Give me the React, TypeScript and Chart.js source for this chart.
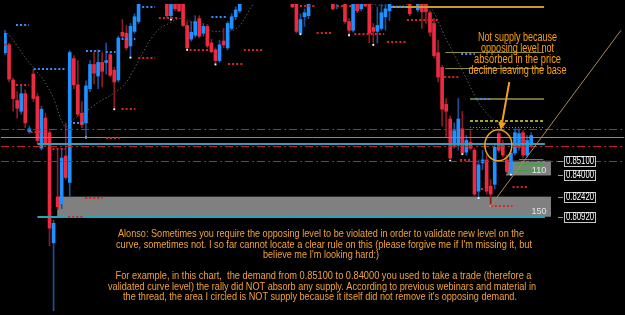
import React, { useEffect, useRef } from "react";
import { Chart, registerables } from "chart.js";

Chart.register(...registerables);

// ---------------- data ----------------
const opens = [
  0.9316, 0.9374, 0.9112, 0.8959, 0.8879, 0.9010, 0.8727, 0.9156, 0.8988, 0.8603,
  0.8828, 0.8719, 0.7898, 0.8240, 0.8189, 0.8545, 0.8349, 0.9272, 0.9076, 0.8865,
  0.8792, 0.9047, 0.9228, 0.9141, 0.9243, 0.9243, 0.9301, 0.9185, 0.9112, 0.9468,
  0.9461, 0.9366, 0.9475, 0.9548, 0.9715, 0.9780, 0.9760, 0.9860, 0.9830, 0.9880,
  0.9750, 0.9592, 0.9720, 0.9720, 0.9710, 0.9519, 0.9417, 0.9446, 0.9570, 0.9461,
  0.9512, 0.9388, 0.9337, 0.9257, 0.9403, 0.9352, 0.9497, 0.9584, 0.9628, 0.9720,
  0.9780, 0.9820, 0.9870, 0.9850, 0.9930, 0.9900, 0.9870, 0.9910, 0.9880, 0.9830,
  0.9790, 0.9750, 0.9750, 0.9461, 0.9584, 0.9592, 0.9720, 0.9770, 0.9740, 0.9790,
  0.9760, 0.9750, 0.9700, 0.9750, 0.9720, 0.9548, 0.9483, 0.9720, 0.9643, 0.9720,
  0.9720, 0.9504, 0.9475, 0.9497, 0.9584, 0.9628, 0.9700, 0.9760, 0.9740, 0.9780,
  0.9720, 0.9700, 0.9635, 0.9710, 0.9700, 0.9614, 0.9534, 0.9316, 0.9206, 0.8930,
  0.8821, 0.8625, 0.8625, 0.8748, 0.8574, 0.8647, 0.8589, 0.8283, 0.8494, 0.8516,
  0.8320, 0.8334, 0.8712, 0.8625, 0.8516, 0.8421, 0.8567, 0.8610, 0.8719, 0.8552, 0.8625,
];
const highs = [
  0.9483, 0.9388, 0.9126, 0.9025, 0.9076, 0.9039, 0.8770, 0.9192, 0.9010, 0.8916,
  0.8865, 0.8734, 0.8065, 0.8589, 0.8603, 0.8792, 0.9330, 0.9294, 0.9257, 0.8952,
  0.9105, 0.9257, 0.9323, 0.9337, 0.9316, 0.9388, 0.9316, 0.9206, 0.9439, 0.9563,
  0.9519, 0.9534, 0.9606, 0.9750, 0.9810, 0.9850, 0.9880, 0.9920, 0.9900, 0.9930,
  0.9800, 0.9800, 0.9760, 0.9750, 0.9750, 0.9548, 0.9548, 0.9592, 0.9592, 0.9534,
  0.9526, 0.9417, 0.9352, 0.9410, 0.9497, 0.9548, 0.9606, 0.9657, 0.9750, 0.9800,
  0.9840, 0.9900, 0.9930, 0.9950, 0.9990, 0.9960, 0.9940, 0.9980, 0.9920, 0.9890,
  0.9840, 0.9800, 0.9800, 0.9606, 0.9643, 0.9750, 0.9800, 0.9830, 0.9810, 0.9850,
  0.9800, 0.9800, 0.9800, 0.9820, 0.9760, 0.9570, 0.9750, 0.9760, 0.9750, 0.9760,
  0.9760, 0.9534, 0.9657, 0.9700, 0.9700, 0.9750, 0.9780, 0.9820, 0.9800, 0.9830,
  0.9760, 0.9760, 0.9750, 0.9750, 0.9750, 0.9628, 0.9570, 0.9410, 0.9221, 0.8974,
  0.8843, 0.8792, 0.8974, 0.8879, 0.8698, 0.8734, 0.8603, 0.8516, 0.8589, 0.8552,
  0.8370, 0.8639, 0.8727, 0.8661, 0.8552, 0.8589, 0.8748, 0.8748, 0.8734, 0.8698, 0.8719,
];
const lows = [
  0.9301, 0.9097, 0.8879, 0.8828, 0.8857, 0.8756, 0.8712, 0.8952, 0.8639, 0.8589,
  0.8618, 0.7876, 0.7350, 0.8145, 0.8152, 0.8370, 0.8240, 0.9047, 0.8843, 0.8756,
  0.8683, 0.9025, 0.9083, 0.9047, 0.9061, 0.9156, 0.9134, 0.8894, 0.9097, 0.9425,
  0.9337, 0.9279, 0.9461, 0.9534, 0.9690, 0.9740, 0.9730, 0.9800, 0.9760, 0.9800,
  0.9577, 0.9563, 0.9628, 0.9621, 0.9512, 0.9337, 0.9403, 0.9432, 0.9425, 0.9439,
  0.9352, 0.9316, 0.9228, 0.9243, 0.9352, 0.9337, 0.9483, 0.9563, 0.9614, 0.9700,
  0.9740, 0.9790, 0.9830, 0.9820, 0.9880, 0.9850, 0.9820, 0.9860, 0.9810, 0.9760,
  0.9720, 0.9650, 0.9461, 0.9454, 0.9512, 0.9570, 0.9700, 0.9730, 0.9700, 0.9750,
  0.9700, 0.9635, 0.9643, 0.9700, 0.9534, 0.9446, 0.9468, 0.9614, 0.9628, 0.9657,
  0.9388, 0.9374, 0.9388, 0.9483, 0.9483, 0.9555, 0.9690, 0.9720, 0.9700, 0.9730,
  0.9592, 0.9690, 0.9621, 0.9497, 0.9534, 0.9439, 0.9279, 0.9097, 0.8770, 0.8683,
  0.8509, 0.8603, 0.8589, 0.8559, 0.8552, 0.8589, 0.8247, 0.8232, 0.8443, 0.8261,
  0.8174, 0.8298, 0.8574, 0.8538, 0.8414, 0.8407, 0.8552, 0.8589, 0.8530, 0.8538, 0.8610,
];
const closes = [
  0.9461, 0.9119, 0.8974, 0.8901, 0.9010, 0.8792, 0.8748, 0.8974, 0.8661, 0.8894,
  0.8639, 0.8007, 0.8043, 0.8167, 0.8530, 0.8385, 0.9316, 0.9076, 0.8857, 0.8778,
  0.9068, 0.9228, 0.9163, 0.9243, 0.9177, 0.9257, 0.9148, 0.9097, 0.9425, 0.9439,
  0.9352, 0.9512, 0.9584, 0.9715, 0.9780, 0.9760, 0.9860, 0.9830, 0.9880, 0.9810,
  0.9592, 0.9750, 0.9643, 0.9628, 0.9519, 0.9352, 0.9468, 0.9548, 0.9439, 0.9512,
  0.9366, 0.9323, 0.9257, 0.9374, 0.9374, 0.9534, 0.9584, 0.9635, 0.9720, 0.9780,
  0.9820, 0.9870, 0.9850, 0.9930, 0.9900, 0.9870, 0.9910, 0.9880, 0.9830, 0.9790,
  0.9750, 0.9657, 0.9475, 0.9563, 0.9614, 0.9720, 0.9770, 0.9740, 0.9790, 0.9760,
  0.9720, 0.9643, 0.9750, 0.9720, 0.9548, 0.9483, 0.9700, 0.9628, 0.9710, 0.9664,
  0.9461, 0.9475, 0.9519, 0.9614, 0.9643, 0.9700, 0.9760, 0.9740, 0.9780, 0.9750,
  0.9606, 0.9730, 0.9710, 0.9621, 0.9621, 0.9468, 0.9294, 0.9134, 0.8894, 0.8879,
  0.8530, 0.8734, 0.8821, 0.8567, 0.8661, 0.8603, 0.8261, 0.8479, 0.8516, 0.8283,
  0.8261, 0.8610, 0.8589, 0.8552, 0.8429, 0.8567, 0.8719, 0.8712, 0.8552, 0.8661, 0.8698,
];

// candles whose low carries a white marker
const lowMarkIdx = [20, 27, 31, 41, 45, 52, 73, 85, 91, 110, 113, 117, 120, 125];

// moving average (dotted curve)
const maIdx = [0, 2, 5, 7, 10, 12, 14, 15, 17, 20, 23, 27, 30, 33, 36, 38, 41, 43, 46, 49, 52, 55, 58, 61, 64, 72, 80, 88, 93, 97, 102, 105, 109, 112, 115, 117, 119, 122];
const maVal = [0.9483, 0.9410, 0.9279, 0.9206, 0.9090, 0.8974, 0.8807, 0.8763, 0.8821, 0.8879, 0.8945, 0.9017, 0.9097, 0.9257, 0.9417, 0.9490, 0.9541, 0.9570, 0.9548, 0.9497, 0.9475, 0.9475, 0.9519, 0.9664, 0.9760, 0.9850, 0.9830, 0.9700, 0.9668, 0.9665, 0.9685, 0.9657, 0.9417, 0.9243, 0.9061, 0.8945, 0.8865, 0.8778];

// horizontal levels
const levelPrices = [0.8748, 0.8687, 0.8632, 0.8618, 0.8510, 0.8092, 0.9654, 0.9323, 0.9199, 0.8974, 0.8803, 0.8758];
const levelFrom = [-1, -1, 8, -1, -1, 8, 95.4, 108.8, 108.8, 114.9, 114.9, 114.9];
const levelTo = [153, 153, 133.4, 153, 153, 133.4, 133.2, 133.2, 133.2, 133.2, 133.2, 133.2];
const levelKinds = ["redDashDot", "graySolid", "cyan", "redDashDot", "greenDashDot", "cyan", "gold", "olive", "olive", "oliveDark", "yellowDash", "grayDot"];

// zones (gray boxes)
const zoneHigh = [0.851, 0.8242];
const zoneLow = [0.840, 0.8092];
const zoneFrom = [123.8, 12.9];
const zoneTo = [134.9, 134.9];
const zoneLabels = ["110", "150"];

// short green lines inside the upper zone
const greenPrices = [0.8521, 0.8484, 0.8440];
const greenFrom = [127.0, 126.0, 125.5];
const greenTo = [133.0, 133.0, 132.5];

// fractal dotted segments
const fracPrice = [0.9519, 0.9374, 0.9076, 0.9192, 0.9330, 0.9323, 0.8894, 0.9417, 0.8792, 0.8727, 0.8683, 0.8596, 0.9279, 0.9657, 0.9577, 0.9337, 0.8232, 0.8087, 0.9584, 0.9337, 0.9235, 0.9664, 0.9664, 0.9461, 0.9454, 0.9395, 0.9563, 0.9657, 0.9308, 0.9134, 0.8974, 0.8516, 0.8312, 0.8174, 0.8298];
const fracFrom = [2.7, -0.2, 2.7, 7.1, 20, 24.9, 28.8, 28.8, 16.8, 6.3, 24.9, 11.7, 32.9, 33.9, 38, 45.6, 19.8, 15.6, 51, 59, 55.1, 72.9, 81, 77, 86.3, 94.4, 99.3, 95.4, 112.7, 108.5, 116.3, 112.4, 125.4, 120, 117.6];
const fracTo = [5.9, 1.7, 5.9, 15.1, 24.1, 27.3, 32.2, 32.2, 19.3, 8.8, 28.3, 14.9, 37.1, 37.1, 42.9, 50.2, 24.1, 19.3, 54.6, 63.7, 58.8, 76.6, 85.9, 80.7, 93.7, 99, 107.1, 99, 116.1, 112, 120, 114.9, 129, 125.4, 120];
const fracSide = ["b", "r", "r", "b", "b", "b", "r", "b", "b", "r", "r", "r", "r", "b", "r", "r", "r", "r", "b", "r", "r", "r", "r", "r", "r", "r", "r", "b", "b", "r", "b", "r", "r", "r", "r"];

// trend line
const trendIdx = [120, 152.2];
const trendVal = [0.8174, 0.9483];

// right-side price labels
const priceLabelText = ["0.85100", "0.84000", "0.82420", "0.80920"];
const priceLabelVal = [0.851, 0.84, 0.8242, 0.8092];

// annotations
const circleIdx = 121.9;
const circleVal = 0.8625;
const arrowIdx = [124.6, 122.5];
const arrowVal = [0.9097, 0.8739];

const noteTop = ["Not supply because", "opposing level not", "absorbed in the price", "decline leaving the base"];
const noteBottom = [
  "Alonso: Sometimes you require the opposing level to be violated in order to validate new level on the",
  "curve, sometimes not. I so far cannot locate a clear rule on this (please forgive me if I'm missing it, but",
  "believe me I'm looking hard:)",
  "For example, in this chart,  the demand from 0.85100 to 0.84000 you used to take a trade (therefore a",
  "validated curve level) the rally did NOT absorb any supply. According to previous webinars and material in",
  "the thread, the area I circled is NOT supply because it itself did not remove it's opposing demand.",
];

// ---------------- styles / layout ----------------
const BULL = "#1e90ff";
const BEAR = "#ec2a40";
const BULL_WICK = "#1f4f96";
const BEAR_WICK = "#8c1c24";

const LEVEL_STYLE: Record<string, { color: string; width: number; dash: number[] }> = {
  redDashDot: { color: "#c8202a", width: 1, dash: [8, 3, 2, 3] },
  graySolid: { color: "#8a8a8a", width: 1, dash: [] },
  cyan: { color: "#29a3b5", width: 2, dash: [] },
  greenDashDot: { color: "#3e5e3e", width: 1, dash: [8, 3, 2, 3] },
  gold: { color: "#c99a2a", width: 2, dash: [] },
  olive: { color: "#8e8e3e", width: 1, dash: [] },
  oliveDark: { color: "#6f6f3c", width: 2, dash: [] },
  yellowDash: { color: "#e8e020", width: 1.5, dash: [3, 2] },
  grayDot: { color: "#8c8c8c", width: 1, dash: [1, 2] },
};

const TOP_NOTE = { cx: 517.5, ys: [37.5, 48.8, 59.6, 70.2], ws: [79, 73, 87, 98], color: "#ffa200", font: "12px 'Liberation Sans', Arial, sans-serif" };
const BOTTOM_NOTE = {
  cx: [321, 324, 321, 323.5, 322, 320],
  ys: [234, 244.7, 255.3, 276, 286.7, 297.3],
  ws: [406, 416, 116, 416, 428, 394],
  color: "#f2a23c",
  font: "11px 'Liberation Sans', Arial, sans-serif",
};

function fitText(ctx: CanvasRenderingContext2D, text: string, cx: number, cy: number, w: number) {
  const m = ctx.measureText(text).width || 1;
  ctx.save();
  ctx.translate(cx, cy);
  ctx.scale(w / m, 1);
  ctx.fillText(text, 0, 0);
  ctx.restore();
}

const overlay = {
  id: "overlay",
  beforeDraw(chart: any) {
    const { ctx, width, height } = chart;
    ctx.save();
    ctx.fillStyle = "#000";
    ctx.fillRect(0, 0, width, height);
    ctx.restore();
  },
  beforeDatasetsDraw(chart: any) {
    const { ctx } = chart;
    const xs = chart.scales.x;
    const ys = chart.scales.y;
    ctx.save();
    ctx.fillStyle = "#808080";
    zoneLow.forEach((lo, k) => {
      const x0 = xs.getPixelForValue(zoneFrom[k]);
      const x1 = xs.getPixelForValue(zoneTo[k]);
      const y0 = ys.getPixelForValue(zoneHigh[k]);
      const y1 = ys.getPixelForValue(lo);
      ctx.fillRect(x0, y0, x1 - x0, y1 - y0);
    });
    ctx.strokeStyle = "#34a834";
    ctx.lineWidth = 1;
    greenPrices.forEach((p, k) => {
      const y = Math.round(ys.getPixelForValue(p)) + 0.5;
      ctx.beginPath();
      ctx.moveTo(xs.getPixelForValue(greenFrom[k]), y);
      ctx.lineTo(xs.getPixelForValue(greenTo[k]), y);
      ctx.stroke();
    });
    ctx.restore();
  },
  afterDatasetsDraw(chart: any) {
    const { ctx } = chart;
    const xs = chart.scales.x;
    const ys = chart.scales.y;
    ctx.save();
    // level lines
    levelPrices.forEach((p, k) => {
      const st = LEVEL_STYLE[levelKinds[k]];
      const yy = ys.getPixelForValue(p);
      const y = st.width % 2 === 1 ? Math.round(yy) + 0.5 : Math.round(yy);
      ctx.strokeStyle = st.color;
      ctx.lineWidth = st.width;
      ctx.setLineDash(st.dash);
      ctx.beginPath();
      ctx.moveTo(xs.getPixelForValue(levelFrom[k]), y);
      ctx.lineTo(xs.getPixelForValue(levelTo[k]), y);
      ctx.stroke();
    });
    // fractal dots
    ctx.lineWidth = 2;
    ctx.setLineDash([2, 2.1]);
    fracPrice.forEach((p, k) => {
      const y = Math.round(ys.getPixelForValue(p));
      ctx.strokeStyle = fracSide[k] === "r" ? "#e02424" : "#3a8cff";
      ctx.beginPath();
      ctx.moveTo(xs.getPixelForValue(fracFrom[k]), y);
      ctx.lineTo(xs.getPixelForValue(fracTo[k]), y);
      ctx.stroke();
    });
    ctx.setLineDash([]);
    // trend line
    ctx.strokeStyle = "#a8885a";
    ctx.lineWidth = 1;
    ctx.beginPath();
    ctx.moveTo(xs.getPixelForValue(trendIdx[0]), ys.getPixelForValue(trendVal[0]));
    ctx.lineTo(xs.getPixelForValue(trendIdx[1]), ys.getPixelForValue(trendVal[1]));
    ctx.stroke();
    // zone labels
    ctx.fillStyle = "#e4e4e4";
    ctx.font = "9px 'Liberation Sans', Arial, sans-serif";
    ctx.textAlign = "center";
    ctx.textBaseline = "middle";
    zoneLabels.forEach((t, k) => {
      ctx.fillText(t, xs.getPixelForValue(zoneTo[k]) - 12, ys.getPixelForValue(zoneLow[k]) - 5);
    });
    // price labels
    const right = chart.chartArea.right;
    priceLabelVal.forEach((v, k) => {
      const y = Math.round(ys.getPixelForValue(v));
      ctx.strokeStyle = "#9a9a9a";
      ctx.lineWidth = 1;
      ctx.beginPath();
      ctx.moveTo(right - 63, y + 0.5);
      ctx.lineTo(right - 58, y + 0.5);
      ctx.stroke();
      ctx.fillStyle = "#000";
      ctx.fillRect(right - 57, y - 5, 32, 11);
      ctx.strokeStyle = "#c8c8c8";
      ctx.strokeRect(right - 56.5, y - 4.5, 31, 10);
      ctx.fillStyle = "#ffffff";
      ctx.font = "10px 'Liberation Sans', Arial, sans-serif";
      fitText(ctx, priceLabelText[k], right - 41, y + 0.5, 28);
    });
    // circle
    ctx.strokeStyle = "#f0a020";
    ctx.lineWidth = 1.5;
    ctx.beginPath();
    ctx.ellipse(xs.getPixelForValue(circleIdx), ys.getPixelForValue(circleVal), 13.5, 15.5, 0, 0, Math.PI * 2);
    ctx.stroke();
    // arrow
    const ax0 = xs.getPixelForValue(arrowIdx[0]);
    const ay0 = ys.getPixelForValue(arrowVal[0]);
    const ax1 = xs.getPixelForValue(arrowIdx[1]);
    const ay1 = ys.getPixelForValue(arrowVal[1]);
    const ang = Math.atan2(ay1 - ay0, ax1 - ax0);
    const headL = 8;
    const headW = 4;
    const bx = ax1 - headL * Math.cos(ang);
    const by = ay1 - headL * Math.sin(ang);
    ctx.strokeStyle = "#f0a020";
    ctx.lineWidth = 2;
    ctx.beginPath();
    ctx.moveTo(ax0, ay0);
    ctx.lineTo(bx, by);
    ctx.stroke();
    ctx.fillStyle = "#f0a020";
    ctx.beginPath();
    ctx.moveTo(ax1, ay1);
    ctx.lineTo(bx + headW * Math.sin(ang), by - headW * Math.cos(ang));
    ctx.lineTo(bx - headW * Math.sin(ang), by + headW * Math.cos(ang));
    ctx.closePath();
    ctx.fill();
    // notes
    ctx.textAlign = "center";
    ctx.textBaseline = "middle";
    ctx.font = TOP_NOTE.font;
    ctx.fillStyle = TOP_NOTE.color;
    noteTop.forEach((t, k) => fitText(ctx, t, TOP_NOTE.cx, TOP_NOTE.ys[k], TOP_NOTE.ws[k]));
    ctx.font = BOTTOM_NOTE.font;
    ctx.fillStyle = BOTTOM_NOTE.color;
    noteBottom.forEach((t, k) => fitText(ctx, t, BOTTOM_NOTE.cx[k], BOTTOM_NOTE.ys[k], BOTTOM_NOTE.ws[k]));
    ctx.restore();
  },
};

export default function App() {
  const ref = useRef<HTMLCanvasElement>(null);
  useEffect(() => {
    document.body.style.margin = "0";
    document.body.style.background = "#000";
    const idx = opens.map((_, i) => i);
    const chart = new Chart(ref.current as HTMLCanvasElement, {
      type: "bar",
      data: {
        datasets: [
          {
            type: "line",
            data: maIdx.map((x, k) => ({ x, y: maVal[k] })),
            borderColor: "#5a5a5a",
            borderWidth: 1,
            borderDash: [1.5, 2],
            pointRadius: 0,
            cubicInterpolationMode: "monotone",
            order: 5,
          } as any,
          {
            data: idx.map((i) => ({ x: i, y: [lows[i], highs[i]] })),
            backgroundColor: (c: any) => (closes[c.dataIndex] >= opens[c.dataIndex] ? BULL_WICK : BEAR_WICK),
            barThickness: 1,
            grouped: false,
            borderWidth: 0,
            order: 4,
          } as any,
          {
            data: idx.map((i) => ({ x: i, y: [opens[i], closes[i]] })),
            backgroundColor: (c: any) => (closes[c.dataIndex] >= opens[c.dataIndex] ? BULL : BEAR),
            barThickness: 3,
            minBarLength: 1,
            grouped: false,
            borderWidth: 0,
            order: 3,
          } as any,
          {
            type: "line",
            data: lowMarkIdx.map((i) => ({ x: i, y: lows[i] })),
            showLine: false,
            pointStyle: "rect",
            pointRadius: 1.3,
            pointBackgroundColor: "#ffffff",
            pointBorderWidth: 0,
            order: 2,
          } as any,
        ],
      },
      options: {
        responsive: false,
        animation: false,
        devicePixelRatio: 1,
        events: [],
        layout: { padding: 0 },
        plugins: { legend: { display: false }, tooltip: { enabled: false } },
        scales: {
          x: { type: "linear", min: -0.25, max: 152.2, display: false, offset: false, grid: { display: false } },
          y: { type: "linear", min: 0.7389, max: 0.9679, display: false, grid: { display: false } },
        },
      } as any,
      plugins: [overlay],
    });
    return () => chart.destroy();
  }, []);
  return (
    <div style={{ position: "fixed", left: 0, top: 0, width: 625, height: 315, background: "#000" }}>
      <canvas ref={ref} width={625} height={315} style={{ width: 625, height: 315, display: "block" }} />
    </div>
  );
}
